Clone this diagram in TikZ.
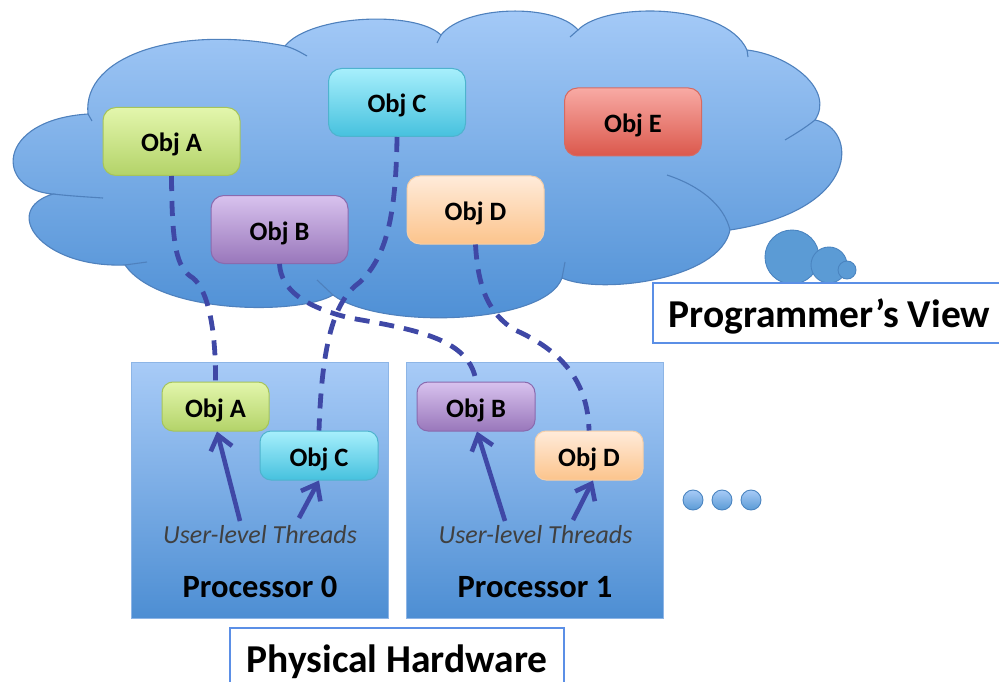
\documentclass[tikz,border=0pt]{standalone}
\usepackage{fontspec}
\setmainfont{Carlito}
\usetikzlibrary{arrows.meta}

% palette
\definecolor{cloudtop}{HTML}{A6CBF8}
\definecolor{cloudbot}{HTML}{4C8ED4}
\definecolor{cloudedge}{HTML}{4F81BD}
\definecolor{proctop}{HTML}{A8CBF7}
\definecolor{procbot}{HTML}{4D8ED3}
\definecolor{procedge}{HTML}{8DB5E6}
\definecolor{bubble}{HTML}{5B9BD5}
\definecolor{bubbleedge}{HTML}{4A84C0}
\definecolor{link}{HTML}{3F48A6}
\definecolor{labeledge}{HTML}{5B8FE6}
\definecolor{threadtxt}{HTML}{404040}
\definecolor{greentop}{HTML}{E3F6AC}
\definecolor{greenbot}{HTML}{B3D369}
\definecolor{greenedge}{HTML}{A6C45A}
\definecolor{cyantop}{HTML}{A7EFFC}
\definecolor{cyanbot}{HTML}{46C1DE}
\definecolor{cyanedge}{HTML}{4EB3CE}
\definecolor{purptop}{HTML}{D8C2EE}
\definecolor{purpbot}{HTML}{9977BB}
\definecolor{purpedge}{HTML}{8A6AAE}
\definecolor{peachtop}{HTML}{FFEBDA}
\definecolor{peachbot}{HTML}{FCC48C}
\definecolor{peachedge}{HTML}{F6CFA8}
\definecolor{redtop}{HTML}{F8AAA4}
\definecolor{redbot}{HTML}{DB584C}
\definecolor{rededge}{HTML}{D66A61}

\begin{document}
\begin{tikzpicture}[x=1pt,y=-1pt,
  cloudline/.style={draw=cloudedge, line width=1.1pt},
  objbox/.style={rounded corners=13pt, inner sep=0pt, line width=1pt,
    minimum width=137pt, minimum height=68pt,
    font=\fontsize{26.5}{26.5}\selectfont\bfseries, text height=22.5pt, text depth=1.5pt},
  smallobj/.style={objbox, rounded corners=11pt, minimum height=49pt},
  greenobj/.style={top color=greentop, bottom color=greenbot, draw=greenedge},
  cyanobj/.style={top color=cyantop, bottom color=cyanbot, draw=cyanedge},
  purpobj/.style={top color=purptop, bottom color=purpbot, draw=purpedge},
  peachobj/.style={top color=peachtop, bottom color=peachbot, draw=peachedge},
  redobj/.style={top color=redtop, bottom color=redbot, draw=rededge},
  procbox/.style={rectangle, minimum width=257pt, minimum height=256pt,
    top color=proctop, bottom color=procbot, draw=procedge, line width=1pt},
  proclabel/.style={anchor=base, font=\fontsize{32.5}{32.5}\selectfont\bfseries},
  threadlabel/.style={anchor=base, text=threadtxt, font=\fontsize{26}{26}\selectfont\itshape},
  titlelabel/.style={anchor=base west, font=\fontsize{39.5}{39.5}\selectfont\bfseries},
  labelframe/.style={draw=labeledge, fill=white, line width=1.4pt},
  bubbledot/.style={circle, inner sep=0pt, fill=bubble, draw=bubbleedge, line width=0.9pt},
  morebead/.style={circle, inner sep=0pt, minimum size=20pt, top color=proctop,
    bottom color=bubble, draw=bubbleedge, line width=0.9pt},
  binding/.style={draw=link, line width=4.8pt, dash pattern=on 15pt off 10pt},
  thread/.style={draw=link, line width=4.6pt,
    -{Straight Barb[length=14pt, width=22pt]}}
]
\useasboundingbox (0,0) rectangle (999,682);

% ---------- the cloud ----------
\path[top color=cloudtop, bottom color=cloudbot, cloudline]
  (88,114) .. controls (82,55) and (180,25) .. (285,46)
  .. controls (310,15) and (415,10) .. (441,35)
  .. controls (465,5) and (555,3) .. (578,30)
  .. controls (605,2) and (725,2) .. (747,50)
  .. controls (790,55) and (835,90) .. (815,120)
  .. controls (858,128) and (862,210) .. (730,230)
  .. controls (720,280) and (600,295) .. (562,278)
  .. controls (545,325) and (380,330) .. (333,295)
  .. controls (300,315) and (160,315) .. (125,265)
  .. controls (40,268) and (0,210) .. (53,194)
  .. controls (-5,190) and (-5,120) .. cycle;

% creases between the lobes
\draw[cloudline] (88,114) -- (92,121);
\draw[cloudline] (285,46) .. controls (293,48) and (300,52) .. (307,56);
\draw[cloudline] (441,35) -- (437,43);
\draw[cloudline] (578,30) -- (570,37);
\draw[cloudline] (747,50) -- (748,57);
\draw[cloudline] (815,120) .. controls (805,128) and (795,134) .. (785,140);
\draw[cloudline] (730,230) .. controls (724,205) and (700,186) .. (667,175);
\draw[cloudline] (562,278) -- (565,262);
\draw[cloudline] (333,295) -- (317,280);
\draw[cloudline] (125,265) -- (147,262);
\draw[cloudline] (53,194) .. controls (70,196) and (88,197) .. (103,198);

% thought bubbles
\node[bubbledot, minimum size=54pt] (b1) at (792,257) {};
\node[bubbledot, minimum size=36pt] (b2) at (829,265) {};
\node[bubbledot, minimum size=18pt] (b3) at (847,270) {};

% ---------- objects in the cloud ----------
\node[objbox, greenobj] (cA) at (171.5,141.5) {Obj A};
\node[objbox, cyanobj]  (cC) at (397,102.5) {Obj C};
\node[objbox, redobj]   (cE) at (633,122) {Obj E};
\node[objbox, purpobj]  (cB) at (279.5,229.5) {Obj B};
\node[objbox, peachobj] (cD) at (475.5,210) {Obj D};

% ---------- labels ----------
\path[labelframe] (653,283) rectangle (1010,343);
\node[titlelabel] (pv) at (665,327) {Programmer’s View};

% ---------- processors ----------
\node[procbox] (p0) at (259.5,490) {};
\node[procbox] (p1) at (535,490) {};

\node[smallobj, minimum width=107pt, greenobj] (pA) at (215.5,406.5) {Obj A};
\node[smallobj, minimum width=118pt, cyanobj]  (pC) at (319,455.5) {Obj C};
\node[smallobj, minimum width=118pt, purpobj]  (pB) at (476,406.5) {Obj B};
\node[smallobj, minimum width=108pt, peachobj] (pD) at (589,455.5) {Obj D};

\node[threadlabel] (u0) at (260,543) {User-level Threads};
\node[threadlabel] (u1) at (535.5,543) {User-level Threads};
\node[proclabel] (n0) at (260,597) {Processor 0};
\node[proclabel] (n1) at (535,597) {Processor 1};

\path[labelframe] (230,628) rectangle (564,695);
\node[titlelabel] (ph) at (243,672) {Physical Hardware};

% more processors
\node[morebead] (m1) at (693,500) {};
\node[morebead] (m2) at (722,500) {};
\node[morebead] (m3) at (751,500) {};

% ---------- object placement ----------
\draw[binding] (cA.south) .. controls (172,245) and (176,268) .. (193,278)
  .. controls (208,290) and (216,330) .. (pA.north);
\draw[binding] (cC.south) .. controls (396,220) and (385,258) .. (360,282)
  .. controls (335,300) and (322,340) .. (pC.north);
\draw[binding] (cB.south) .. controls (281,290) and (305,307) .. (350,318)
  .. controls (420,330) and (470,340) .. (pB.north);
\draw[binding] (cD.south) .. controls (478,290) and (490,315) .. (515,330)
  .. controls (560,350) and (588,380) .. (pD.north);

% ---------- user-level threads ----------
\coordinate (t0a) at (240,521);
\coordinate (t0c) at (299,518);
\coordinate (t1b) at (505,521);
\coordinate (t1d) at (573,520);
\draw[thread] (t0a) -- ([xshift=1.5pt]pA.south);
\draw[thread] (t0c) -- (pC.south);
\draw[thread] (t1b) -- ([xshift=1pt]pB.south);
\draw[thread] (t1d) -- ([xshift=4pt]pD.south);
\end{tikzpicture}
\end{document}
